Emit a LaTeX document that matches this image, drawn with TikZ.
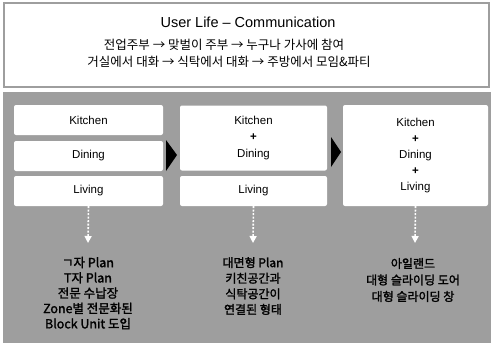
\documentclass[tikz,border=0pt]{standalone}
\usepackage{fontspec}
\setmainfont{Liberation Sans}
\newfontfamily\kr{Noto Sans CJK KR}
\newfontfamily\krb[FakeBold=1.8]{Noto Sans CJK KR}
\usetikzlibrary{arrows.meta}
\colorlet{panelgray}{black!38}
\colorlet{framegray}{black!38}
\tikzset{
  zone/.style={rectangle, fill=white, rounded corners=2pt, text=black,
    align=center, inner sep=0pt, font=\fontsize{11.5}{16.2}\selectfont},
  stepnote/.style={align=center, text=black, inner sep=0pt},
  flowtri/.style={fill=black},
  downflow/.style={draw=white, line width=1.6pt, dash pattern=on 2pt off 1.5pt,
    -{Triangle[width=7pt,length=7pt,fill=white]}},
}
\begin{document}
\begin{tikzpicture}[x=1pt,y=-1pt]
\useasboundingbox (0,0) rectangle (494,343);
\fill[white] (0,0) rectangle (494,343);
% top box
\draw[framegray, line width=2.5pt] (4,3) rectangle (489,87);
\node[font=\fontsize{14.5}{16}\selectfont] (title) at (248,22) {User Life -- Communication};
\node[font=\kr\fontsize{12.5}{14}\selectfont] (l1) at (224,45) {전업주부 → 맞벌이 주부 → 누구나 가사에 참여};
\node[font=\kr\fontsize{12.5}{14}\selectfont] (l2) at (229,62) {거실에서 대화 → 식탁에서 대화 → 주방에서 모임\&파티};
% lower panel
\fill[panelgray] (3,92) rectangle (491,343);
% column 1
\node[zone, minimum width=149pt, minimum height=30pt] (c1k) at (88.5,120) {Kitchen};
\node[zone, minimum width=149pt, minimum height=30pt] (c1d) at (88.5,156) {Dining};
\node[zone, minimum width=149pt, minimum height=30pt] (c1l) at (88.5,191) {Living};
% column 2
\node[zone, minimum width=147pt, minimum height=65pt] (c2kd) at (253.5,138) {Kitchen\\\textbf{+}\\Dining};
\node[zone, minimum width=147pt, minimum height=30pt] (c2l) at (253.5,191) {Living};
% column 3
\node[zone, minimum width=145pt, minimum height=101pt] (c3) at (415.5,155.5) {Kitchen\\\textbf{+}\\Dining\\\textbf{+}\\Living};
% black triangles
\fill[flowtri] (166,140) -- (177,155) -- (166,171) -- cycle;
\fill[flowtri] (331,137) -- (341,152) -- (331,167) -- cycle;
% bottom notes
\node[stepnote, font=\krb\fontsize{12.5}{15.3}\selectfont] (n1) at (88,293) {ㄱ자 Plan\\T자 Plan\\전문 수납장\\Zone별 전문화된\\Block Unit 도입};
\node[stepnote, font=\krb\fontsize{12}{15.6}\selectfont] (n2) at (253,286) {대면형 Plan\\키친공간과\\식탁공간이\\연결된 형태};
\node[stepnote, font=\krb\fontsize{12}{16.5}\selectfont] (n3) at (413,280) {아일랜드\\대형 슬라이딩 도어\\대형 슬라이딩 창};
% dashed down arrows
\coordinate (e1) at (88,243);
\coordinate (e2) at (253,243);
\coordinate (e3) at (415,243);
\draw[downflow] (c1l.south) -- (e1);
\draw[downflow] (c2l.south) -- (e2);
\draw[downflow] (c3.south) -- (e3);
\end{tikzpicture}
\end{document}
